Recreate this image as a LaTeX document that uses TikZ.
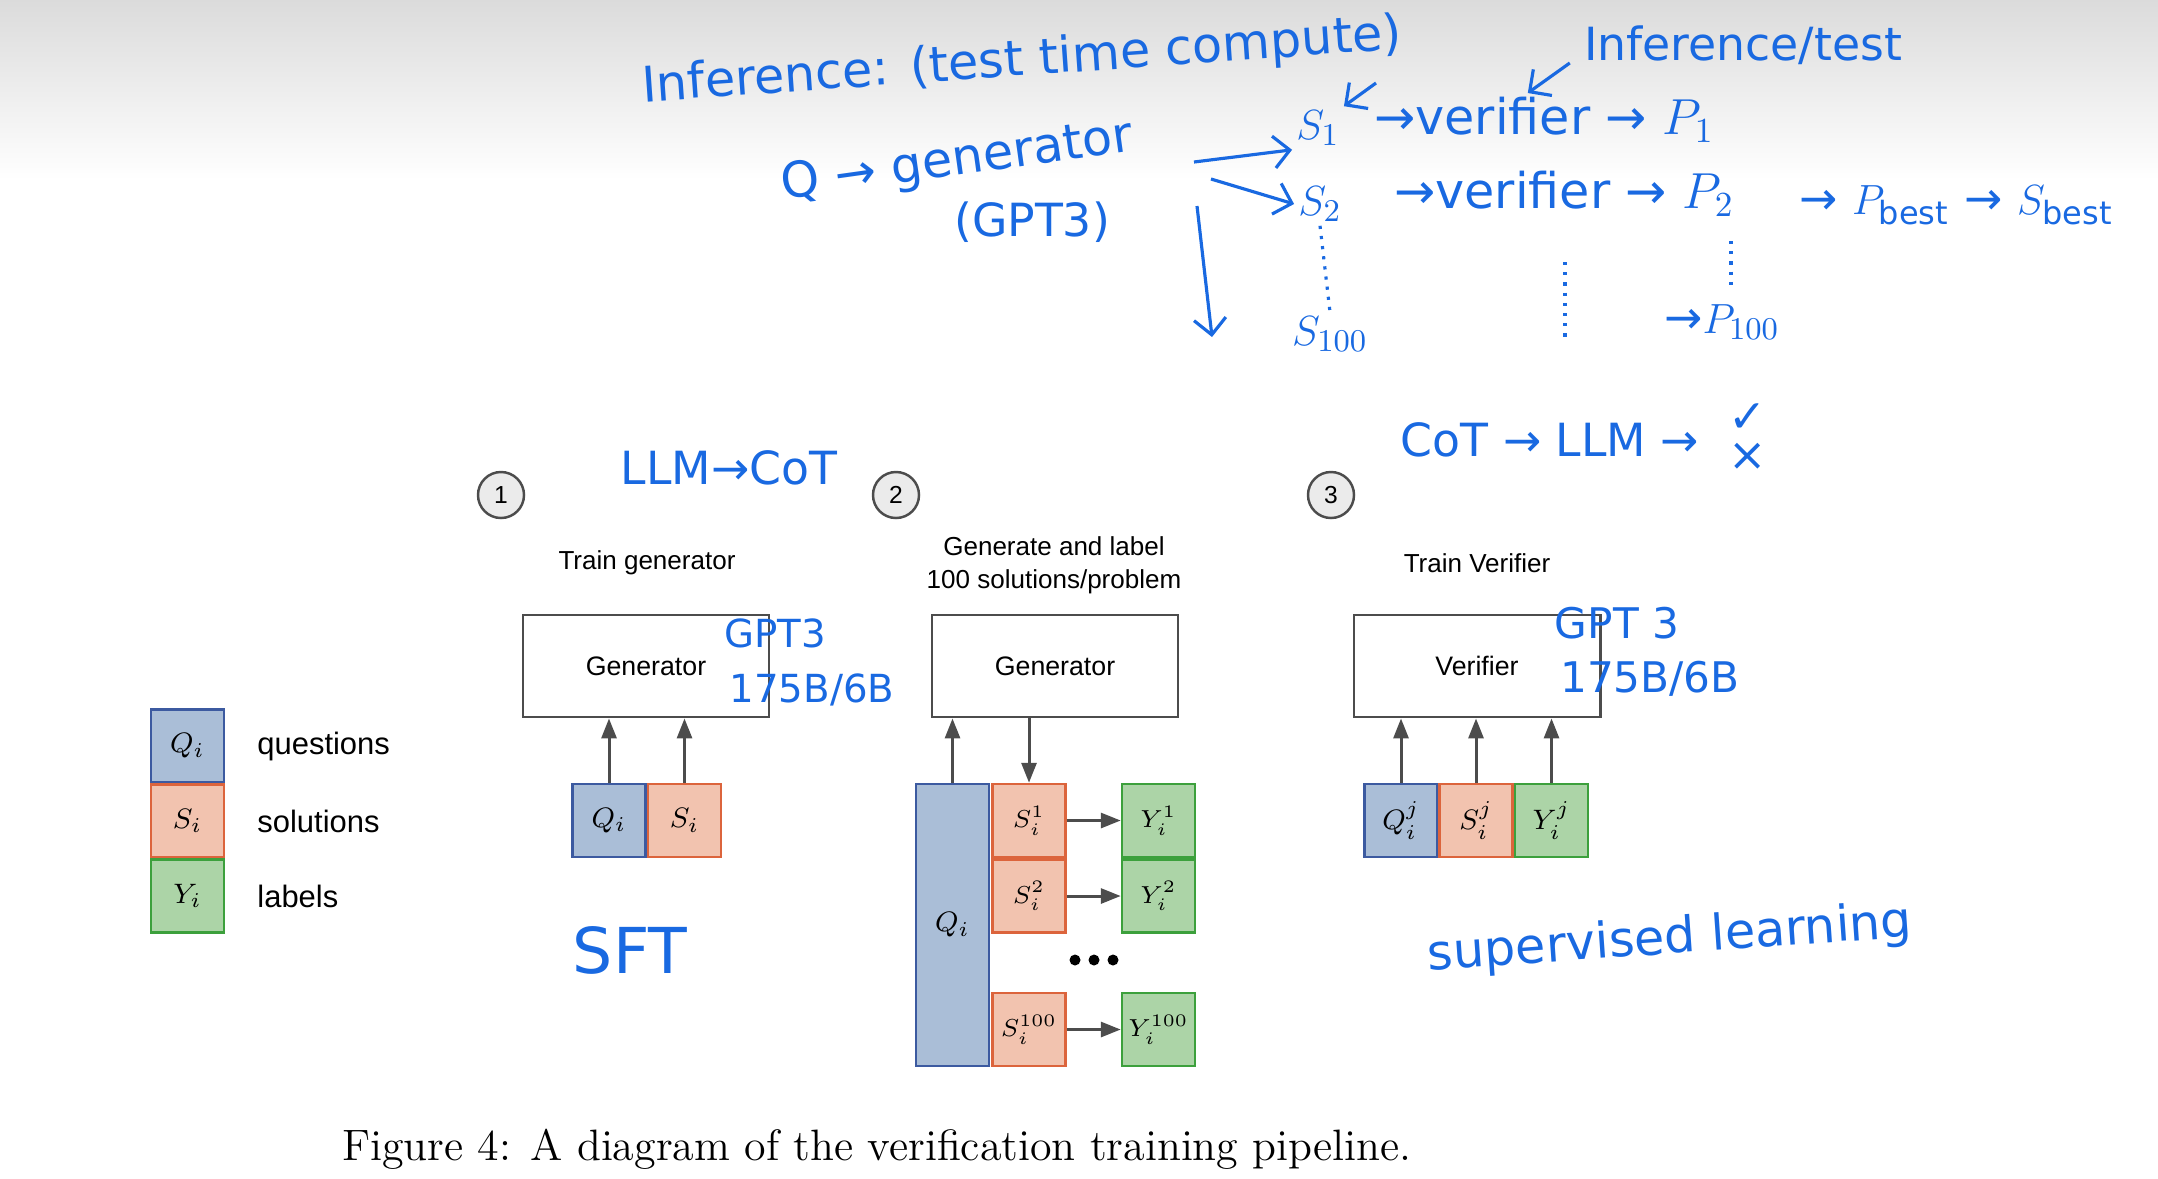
\documentclass[tikz,border=0pt]{standalone}
\usepackage{amsmath, amssymb}
\usepackage{fontspec}
\usepackage{tikz}
\usetikzlibrary{arrows.meta}
\newfontfamily\diagfont{Liberation Sans}
\newfontfamily\handfont{DejaVu Sans}
\definecolor{qfill}{RGB}{170, 190, 215}
\definecolor{qline}{RGB}{60, 90, 160}
\definecolor{sfill}{RGB}{242, 195, 175}
\definecolor{sline}{RGB}{220, 100, 60}
\definecolor{yfill}{RGB}{172, 212, 167}
\definecolor{yline}{RGB}{60, 160, 60}
\definecolor{ink}{RGB}{25, 105, 225}
\definecolor{wire}{gray}{0.30}

\tikzset{
  cell/.style={minimum width=7.3mm, minimum height=7.3mm, inner sep=0pt, line width=0.7pt, font=\fontsize{8.5}{10}\selectfont},
  qcell/.style={cell, draw=qline, fill=qfill},
  scell/.style={cell, draw=sline, fill=sfill},
  ycell/.style={cell, draw=yline, fill=yfill},
  model/.style={draw=wire, line width=0.8pt, minimum width=24.6mm, minimum height=10.2mm, font=\diagfont\fontsize{7.6}{9}\selectfont},
  tag/.style={circle, draw=wire, fill=black!8, line width=0.7pt, minimum size=4.6mm, inner sep=0pt, font=\diagfont\fontsize{7}{8}\selectfont},
  title/.style={font=\diagfont\fontsize{7.4}{9.5}\selectfont, align=center},
  legendtext/.style={anchor=west, font=\diagfont\fontsize{8.8}{10}\selectfont},
  feed/.style={draw=wire, line width=0.85pt, -{Triangle[length=2mm, width=1.5mm]}},
  hand/.style={text=ink, font=\handfont\fontsize{13}{15}\selectfont, inner sep=1pt},
  scrawl/.style={draw=ink, line width=0.9pt, -{Straight Barb[length=1.6mm]}}
}

\begin{document}
\begin{tikzpicture}[x=0.01cm, y=-0.01cm]
  \useasboundingbox (0,0) rectangle (2158,1178);
  \shade[top color=black!14, bottom color=white] (0,0) rectangle (2158,180);

  % legend
  \node[qcell] (lq) at (187.5,746) {$Q_i$};
  \node[scell] (ls) at (187.5,821) {$S_i$};
  \node[ycell] (ly) at (187.5,896) {$Y_i$};
  \node[legendtext] (lqt) at (245,746) {questions};
  \node[legendtext] (lst) at (245,821) {solutions};
  \node[legendtext] (lyt) at (245,896) {labels};

  % step 1
  \node[tag] (t1) at (501,495) {1};
  \node[title] (h1) at (647,563) {Train generator};
  \node[model] (g1) at (646,666) {Generator};
  \node[qcell] (q1) at (609,820.5) {$Q_i$};
  \node[scell] (s1) at (684.5,820.5) {$S_i$};
  \draw[feed] (q1.north) -- (q1.north |- g1.south);
  \draw[feed] (s1.north) -- (s1.north |- g1.south);

  % step 2
  \node[tag] (t2) at (896,495) {2};
  \node[title] (h2) at (1054,565) {Generate and label\\100 solutions/problem};
  \node[model] (g2) at (1055,666) {Generator};
  \node[qcell, minimum height=28.2mm] (q2) at (952.5,925) {$Q_i$};
  \node[scell, font=\fontsize{7.5}{9}\selectfont] (sa) at (1029,820.5) {$S_i^1$};
  \node[scell, font=\fontsize{7.5}{9}\selectfont] (sb) at (1029,896) {$S_i^2$};
  \node[scell, font=\fontsize{7.5}{9}\selectfont] (sc) at (1029,1029.5) {$S_i^{100}$};
  \node[ycell, font=\fontsize{7.5}{9}\selectfont] (ya) at (1158.5,820.5) {$Y_i^1$};
  \node[ycell, font=\fontsize{7.5}{9}\selectfont] (yb) at (1158.5,896) {$Y_i^2$};
  \node[ycell, font=\fontsize{7.5}{9}\selectfont] (yc) at (1158.5,1029.5) {$Y_i^{100}$};
  \draw[feed] (q2.north) -- (q2.north |- g2.south);
  \draw[feed] (sa.north |- g2.south) -- (sa.north);
  \draw[feed] (sa) -- (ya);
  \draw[feed] (sb) -- (yb);
  \draw[feed] (sc) -- (yc);
  \foreach \dx in {-19,0,19}
    \fill (1094+\dx,960) circle (0.55mm);

  % step 3
  \node[tag] (t3) at (1331,495) {3};
  \node[title] (h3) at (1477,563) {Train Verifier};
  \node[model] (v3) at (1477,666) {Verifier};
  \node[qcell] (q3) at (1401,820.5) {$Q_i^j$};
  \node[scell] (s3) at (1476,820.5) {$S_i^j$};
  \node[ycell] (y3) at (1551.5,820.5) {$Y_i^j$};
  \draw[feed] (q3.north) -- (q3.north |- v3.south);
  \draw[feed] (s3.north) -- (s3.north |- v3.south);
  \draw[feed] (y3.north) -- (y3.north |- v3.south);

  % caption
  \node[font=\fontsize{12.5}{14}\selectfont] (cap) at (877,1149) {Figure 4: A diagram of the verification training pipeline.};

  % handwritten notes
  \node[hand, rotate=4, font=\handfont\fontsize{14}{16}\selectfont] (ninf) at (1022,62) {Inference: (test time compute)};
  \node[hand] (ntest) at (1743,45) {Inference/test};
  \node[hand, rotate=8, font=\handfont\fontsize{14}{16}\selectfont] (nq) at (957,162) {Q → generator};
  \node[hand] (ngpt) at (1032,222) {(GPT3)};
  \node[hand] (ns1) at (1318,128) {$S_1$};
  \node[hand, anchor=west, font=\handfont\fontsize{14}{16}\selectfont] (nv1) at (1370,120) {→verifier → $P_1$};
  \node[hand] (ns2) at (1320,204) {$S_2$};
  \node[hand, anchor=west, font=\handfont\fontsize{14}{16}\selectfont] (nv2) at (1390,194) {→verifier → $P_2$};
  \node[hand, anchor=west] (nbest) at (1795,205) {→ $P_{\text{best}}$ → $S_{\text{best}}$};
  \node[hand] (ns100) at (1330,334) {$S_{100}$};
  \node[hand, anchor=west] (np100) at (1660,322) {→$P_{100}$};
  \coordinate (na1) at (1194,162);
  \coordinate (na2) at (1211,179);
  \coordinate (na3) at (1376,83);
  \coordinate (nmid1) at (1565,262);
  \coordinate (nmid2) at (1565,338);
  \coordinate (np2) at (1731,241);
  \coordinate (np3) at (1731,290);
  \coordinate (ndown1) at (1197,206);
  \coordinate (ndown2) at (1212,337);
  \draw[scrawl] (na1) -- (ns1.south west);
  \draw[scrawl] (na2) -- (ns2.west);
  \draw[scrawl] (ndown1) -- (ndown2);
  \draw[scrawl] (na3) -- (ns1.north east);
  \draw[scrawl] (ntest.west) ++(-10,18) -- ++(-42,30);
  \draw[ink, line width=0.9pt, dotted] (ns2.south) -- (ns100.north);
  \draw[ink, line width=0.9pt, dotted] (nmid1) -- (nmid2);
  \draw[ink, line width=0.9pt, dotted] (np2) -- (np3);
  \node[hand] (ncot) at (1550,440) {CoT → LLM →};
  \node[hand] (nok) at (1748,418) {✓};
  \node[hand] (nno) at (1748,457) {×};
  \node[hand] (nllm) at (729,468) {LLM→CoT};
  \node[hand, font=\handfont\fontsize{11}{13}\selectfont] (ng1) at (775,633) {GPT3};
  \node[hand, font=\handfont\fontsize{11}{13}\selectfont] (nb1) at (812,690) {175B/6B};
  \node[hand, font=\handfont\fontsize{12}{14}\selectfont] (ng3) at (1617,623) {GPT 3};
  \node[hand, font=\handfont\fontsize{12}{14}\selectfont] (nb3) at (1650,679) {175B/6B};
  \node[hand, font=\handfont\fontsize{18}{20}\selectfont] (nsft) at (630,950) {SFT};
  \node[hand, rotate=4, font=\handfont\fontsize{14}{16}\selectfont] (nsup) at (1670,940) {supervised learning};
\end{tikzpicture}
\end{document}
